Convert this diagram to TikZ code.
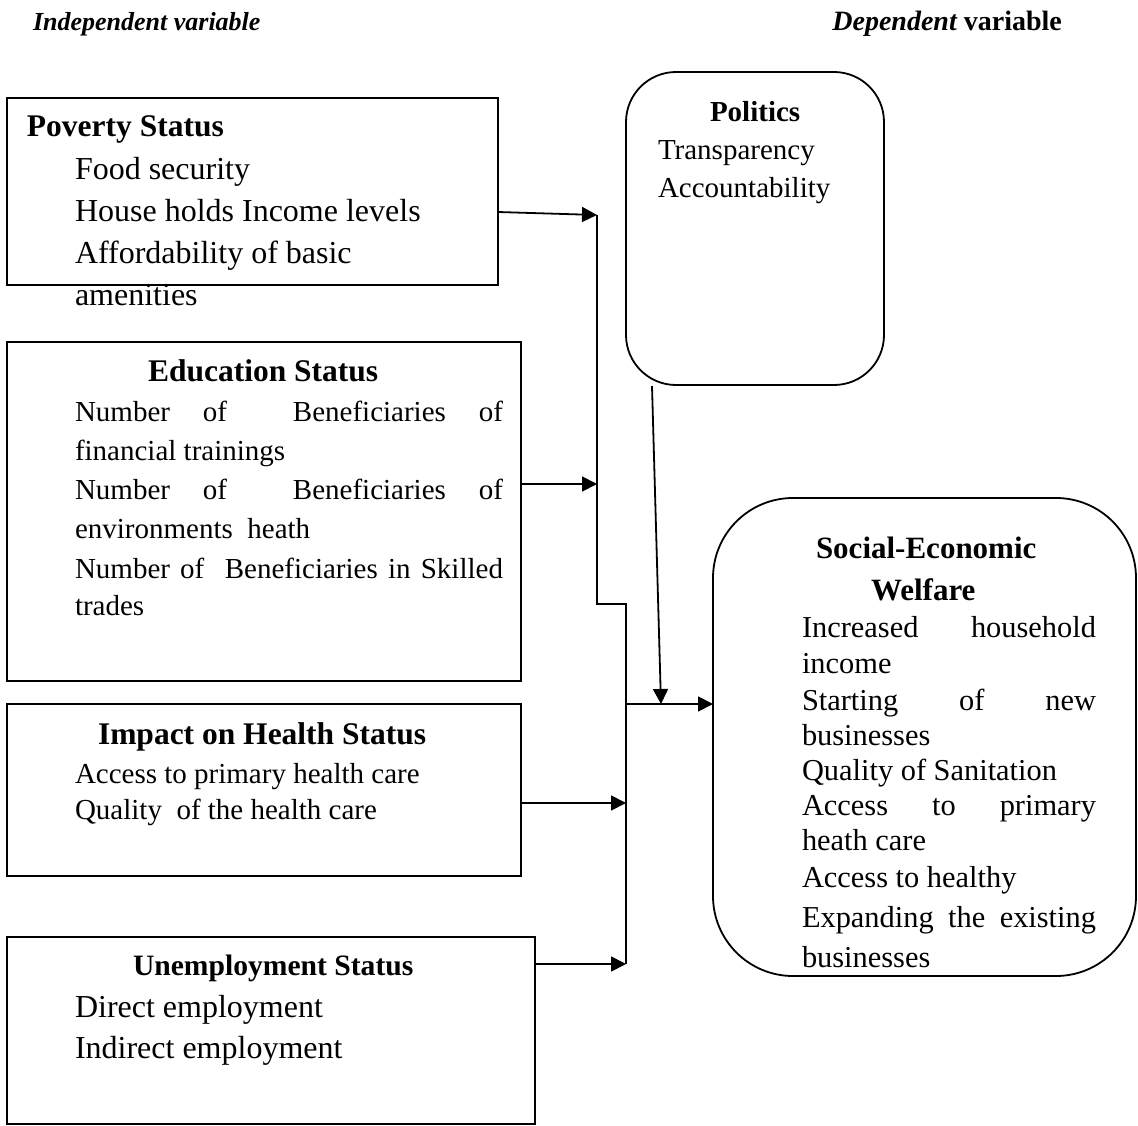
\documentclass[tikz,border=0pt]{standalone}
\usepackage{fontspec}
\setmainfont{Liberation Serif}
\usetikzlibrary{arrows.meta}
\newcommand\szT{\fontsize{26}{31}\selectfont}
\newcommand\szTT{\fontsize{28}{33}\selectfont}
\newcommand\szH{\fontsize{31.5}{38}\selectfont}
\newcommand\szU{\fontsize{29.6}{36}\selectfont}
\newcommand\szL{\fontsize{32}{38}\selectfont}
\newcommand\szM{\fontsize{29}{35}\selectfont}
\newcommand\szS{\fontsize{30.4}{36}\selectfont}
\begin{document}
\begin{tikzpicture}[x=1pt,y=-1pt,
  box/.style={draw,line width=1.8pt,inner sep=0pt,outer sep=0pt,anchor=north west},
  txt/.style={anchor=base west,inner sep=0pt,outer sep=0pt},
  wire/.style={line width=1.8pt},
  arr/.style={line width=1.8pt,-{Triangle[length=15pt,width=15pt]}}]
\useasboundingbox (0,0) rectangle (1138,1126);

% boxes
\node[box,minimum width=491pt,minimum height=187pt] (pov) at (7,98) {};
\node[box,minimum width=514pt,minimum height=339pt] (edu) at (7,342) {};
\node[box,minimum width=514pt,minimum height=172pt] (hea) at (7,704) {};
\node[box,minimum width=528pt,minimum height=187pt] (une) at (7,937) {};
\node[box,rounded corners=50pt,minimum width=258pt,minimum height=313pt] (pol) at (626,72) {};
\node[box,rounded corners=80pt,minimum width=423pt,minimum height=478pt] (soc) at (713,498) {};

% titles
\node[txt] (ti1) at (33,31) {\szT\bfseries\itshape Independent variable};
\node[anchor=base east,inner sep=0pt] (ti2) at (1062,31) {\szTT\bfseries{\itshape Dependent} variable};

% poverty
\node[txt] (p0) at (27,137) {\szH\bfseries Poverty Status};
\node[txt] (p1) at (75,180) {\szL Food security};
\node[txt] (p2) at (75,222) {\szL House holds Income levels};
\node[txt] (p3) at (75,263) {\szL Affordability of basic};
\node[txt] (p4) at (75,305) {\szL amenities};

% education
\node[txt] (e0) at (148,381) {\szH\bfseries Education Status};
\node[txt] (e1) at (75,421) {\szM\makebox[428pt][s]{Number of\ \ Beneficiaries of}};
\node[txt] (e2) at (75,460) {\szM financial trainings};
\node[txt] (e3) at (75,499) {\szM\makebox[428pt][s]{Number of\ \ Beneficiaries of}};
\node[txt] (e4) at (75,538) {\szM environments\ \ heath};
\node[txt] (e5) at (75,578) {\szM\makebox[428pt][s]{Number of\ \ Beneficiaries in Skilled}};
\node[txt] (e6) at (75,615) {\szM trades};

% health
\node[txt] (h0) at (98,744) {\szH\bfseries Impact on Health Status};
\node[txt] (h1) at (75,783) {\szM Access to primary health care};
\node[txt] (h2) at (75,819) {\szM Quality\ \ of the health care};

% unemployment
\node[txt] (u0) at (133,975) {\szU\bfseries Unemployment Status};
\node[txt] (u1) at (75,1017) {\szL Direct employment};
\node[txt] (u2) at (75,1058) {\szL Indirect employment};

% politics
\node[txt] (o0) at (710,122) {\szM\bfseries Politics};
\node[txt] (o1) at (658,160) {\szM Transparency};
\node[txt] (o2) at (658,198) {\szM Accountability};

% social-economic welfare
\node[txt] (s0) at (816,558) {\fontsize{31}{37}\selectfont\bfseries Social-Economic};
\node[txt] (s1) at (871,600) {\fontsize{31}{37}\selectfont\bfseries Welfare};
\node[txt] (s2) at (802,637) {\szS\makebox[294pt][s]{Increased household}};
\node[txt] (s3) at (802,673) {\szS income};
\node[txt] (s4) at (802,710) {\szS\makebox[294pt][s]{Starting of new}};
\node[txt] (s5) at (802,745) {\szS businesses};
\node[txt] (s6) at (802,780) {\szS Quality of Sanitation};
\node[txt] (s7) at (802,815) {\szS\makebox[294pt][s]{Access to primary}};
\node[txt] (s8) at (802,850) {\szS heath care};
\node[txt] (s9) at (802,887) {\szS Access to healthy};
\node[txt] (s10) at (802,927) {\szS\makebox[294pt][s]{Expanding the existing}};
\node[txt] (s11) at (802,967) {\szS businesses};

% connector points
\coordinate (povout) at (498,212);
\coordinate (j1) at (597,215);
\coordinate (j2) at (597,604);
\coordinate (j3) at (626,604);
\coordinate (j4) at (626,964);
\coordinate (eduout) at (521,484);
\coordinate (j5) at (597,484);
\coordinate (heaout) at (521,803);
\coordinate (j6) at (626,803);
\coordinate (uneout) at (535,964);
\coordinate (j7) at (626,704);
\coordinate (polout) at (652,386);
\coordinate (j8) at (661,704);

% connectors
\draw[arr] (povout) -- (j1);
\draw[wire] (j1) -- (j2) -- (j3) -- (j4);
\draw[arr] (eduout) -- (j5);
\draw[arr] (heaout) -- (j6);
\draw[arr] (uneout) -- (j4);
\draw[arr] (j7) -- (soc.west |- j7);
\draw[arr] (polout) -- (j8);
\end{tikzpicture}
\end{document}
